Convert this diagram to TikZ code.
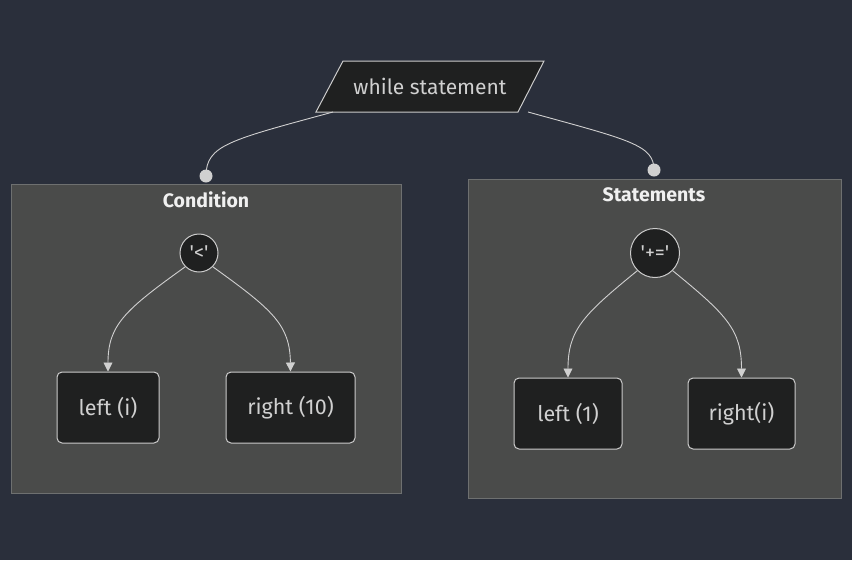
\documentclass[tikz,border=0pt]{standalone}
\usepackage{fontspec}
\setmainfont{Fira Sans}
\usetikzlibrary{arrows.meta}
\definecolor{bgc}{HTML}{2A2F3B}
\definecolor{clfill}{HTML}{4A4B4A}
\definecolor{clline}{HTML}{6E7070}
\definecolor{nfill}{HTML}{1F2020}
\definecolor{nline}{HTML}{CCCCCC}
\definecolor{ntext}{HTML}{D0D0D0}
\definecolor{title}{HTML}{F0F0F0}
\definecolor{edge}{HTML}{D0D0D0}
\tikzset{
  cluster/.style={draw=clline, fill=clfill, line width=1pt},
  ctitle/.style={text=title, font=\fontsize{19.5}{22}\selectfont\bfseries},
  leaf/.style={draw=nline, fill=nfill, line width=1pt, rounded corners=5pt, text=ntext, font=\fontsize{21.5}{24}\selectfont, inner sep=0pt},
  opnode/.style={circle, draw=nline, fill=nfill, line width=1pt, text=ntext, font=\fontsize{20}{22}\selectfont, inner sep=0pt},
  link/.style={draw=edge, line width=0.9pt},
  arr/.style={link, -{Triangle[width=9pt,length=9pt]}},
  dotend/.style={fill=edge, draw=none}
}
\begin{document}
\begin{tikzpicture}[x=1pt,y=-1pt]
\fill[bgc] (0,0) rectangle (852,560);
\useasboundingbox (0,0) rectangle (852,560);
% clusters
\draw[cluster] (11,184) rectangle (401,493);
\draw[cluster] (468,179) rectangle (841,498);
\node[ctitle] (ctitle) at (206,200) {Condition};
\node[ctitle] (stitle) at (654,195) {Statements};
% while statement parallelogram
\draw[draw=nline, fill=nfill, line width=1pt] (343,61) -- (544,61) -- (518,112) -- (316,112) -- cycle;
\node[text=ntext, font=\fontsize{21}{24}\selectfont] (while) at (430,86) {while statement};
\coordinate (wl) at (333,112);
\coordinate (wr) at (528,112);
% ops
\node[opnode, minimum size=38pt] (lt) at (199,253) {\textquotesingle<\textquotesingle};
\node[opnode, minimum size=49pt] (pe) at (655,253) {\textquotesingle+=\textquotesingle};
% leaves
\node[leaf, minimum width=102pt, minimum height=71pt] (li) at (108,407.5) {left (i)};
\node[leaf, minimum width=129pt, minimum height=71pt] (r10) at (290.5,407.5) {right (10)};
\node[leaf, minimum width=108pt, minimum height=71pt] (l1) at (568,413.5) {left (1)};
\node[leaf, minimum width=107pt, minimum height=71pt] (ri) at (741.5,413.5) {right(i)};
% dots
\coordinate (cd) at (206,176);
\coordinate (sd) at (654,170);
\draw[link] (wl) .. controls (230,140) and (206,145) .. (cd);
\draw[link] (wr) .. controls (630,140) and (654,145) .. (sd);
\fill[dotend] (cd) circle (6.5pt);
\fill[dotend] (sd) circle (6.5pt);
% inner edges
\draw[arr] (lt.225) .. controls (125,310) and (108,325) .. (li.north);
\draw[arr] (lt.315) .. controls (273,310) and (290,325) .. (r10.north);
\draw[arr] (pe.225) .. controls (583,315) and (568,330) .. (l1.north);
\draw[arr] (pe.315) .. controls (727,315) and (741.5,330) .. (ri.north);
\end{tikzpicture}
\end{document}
